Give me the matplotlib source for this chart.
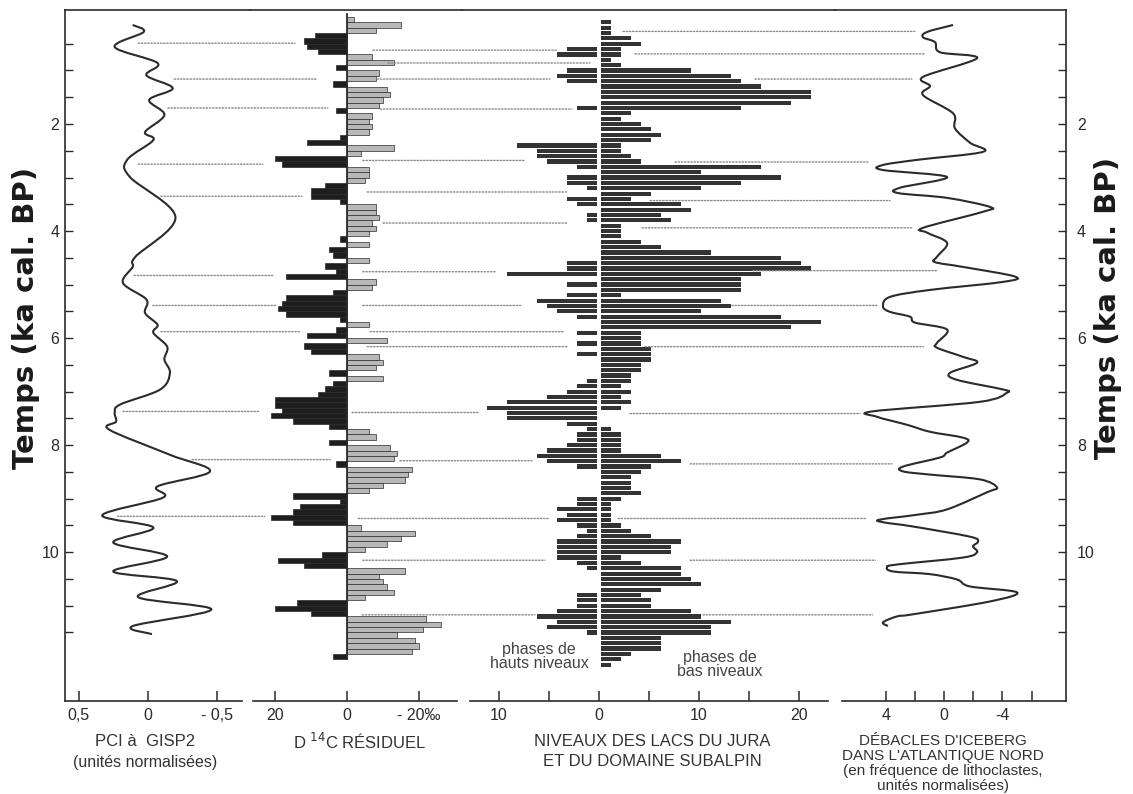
import matplotlib
matplotlib.use("Agg")
import matplotlib.pyplot as plt
from matplotlib.patches import ConnectionPatch, PathPatch
from matplotlib.path import Path
import numpy as np

# PCI at GISP2 (normalised units), time in ka cal. BP
pci_time = [0.15, 0.28, 0.56, 0.86, 1.09, 1.33, 1.55, 1.83, 2.15, 2.30, 2.67, 2.99,
            3.74, 4.48, 4.67, 4.97, 5.28, 5.53, 5.75, 5.90, 6.16, 6.40, 6.65, 6.96,
            7.24, 7.39, 7.56, 7.71, 8.18, 8.49, 8.77, 8.98, 9.31, 9.54, 9.82, 10.08,
            10.36, 10.54, 10.84, 11.07, 11.38, 11.53]
pci_value = [0.11, 0.03, 0.24, -0.07, 0.01, -0.18, -0.01, -0.12, 0.02, -0.04, 0.15, 0.13,
             -0.20, 0.09, 0.11, 0.18, 0.01, 0.02, -0.07, -0.04, -0.14, -0.12, -0.16, -0.09,
             0.20, 0.24, 0.23, 0.28, -0.16, -0.45, -0.07, -0.11, 0.33, -0.04, 0.25, -0.14,
             0.25, -0.21, 0.07, -0.46, 0.11, -0.03]

# residual D14C (per mil), 0.1 ka bins starting at 0.0 ka
d14c_start = 0.0
d14c_step = 0.1
d14c_value = [-2, -15, -8, 9, 12, 11, 8, -7, -13, 3,
              -9, -8, 4, -11, -12, -10, -9, 3, -7, -6,
              -7, -6, 2, 11, -13, -4, 20, 18, -6, -6,
              -5, 6, 10, 10, 2, -8, -8, -9, -7, -8,
              -6, 2, -6, 5, 4, -6, 6, 3, 17, -8,
              -7, 4, 17, 18, 19, 17, 2, -6, 3, 11,
              -11, 12, 10, -9, -10, -8, 5, -10, 4, 6,
              8, 20, 20, 18, 21, 15, 5, -6, -8, 5,
              -12, -14, -13, 3, -18, -17, -16, -10, -6, 15,
              2, 13, 15, 21, 15, -4, -19, -15, -11, -5,
              7, 19, 12, -16, -9, -10, -11, -13, -5, 14,
              20, 10, -22, -26, -21, -14, -19, -20, -18, 4]

# Jura / subalpine lake levels, 0.1 ka bins starting at 0.1 ka
lake_start = 0.1
lake_step = 0.1
lake_high = [0, 0, 0, 0, 0, 3, 4, 0, 0, 3,
             4, 3, 0, 0, 0, 0, 2, 0, 0, 0,
             0, 0, 0, 8, 6, 6, 5, 2, 0, 3,
             3, 1, 0, 3, 2, 0, 1, 1, 0, 0,
             0, 0, 0, 0, 0, 3, 3, 9, 0, 3,
             0, 3, 6, 5, 4, 2, 0, 0, 2, 0,
             2, 0, 2, 0, 0, 0, 0, 1, 2, 3,
             5, 9, 11, 9, 9, 3, 1, 2, 2, 3,
             5, 6, 5, 2, 0, 0, 0, 0, 0, 2,
             2, 4, 3, 4, 2, 1, 2, 4, 4, 4,
             4, 2, 1, 0, 0, 0, 0, 2, 2, 2,
             4, 6, 4, 5, 1, 0, 0, 0, 0, 0,
             0]
lake_low = [1, 1, 1, 3, 4, 2, 2, 1, 2, 9,
            13, 14, 16, 21, 21, 19, 14, 3, 2, 4,
            5, 6, 5, 2, 2, 3, 4, 16, 10, 18,
            14, 10, 5, 3, 8, 9, 6, 7, 2, 2,
            2, 4, 6, 11, 18, 20, 21, 16, 14, 14,
            14, 2, 12, 13, 10, 18, 22, 19, 4, 4,
            4, 5, 5, 5, 4, 4, 3, 3, 2, 3,
            2, 3, 2, 0, 0, 0, 1, 2, 2, 2,
            2, 6, 8, 5, 4, 3, 3, 3, 4, 2,
            1, 1, 1, 1, 2, 3, 5, 8, 7, 7,
            2, 4, 8, 8, 9, 10, 6, 4, 5, 5,
            9, 10, 13, 11, 11, 6, 6, 6, 3, 2,
            1]

# iceberg discharge in the North Atlantic (lithoclast frequency, normalised)
ice_time = [0.15, 0.28, 0.38, 0.47, 0.66, 0.77, 1.12, 1.29, 1.46, 1.80, 2.08, 2.35,
            2.52, 2.67, 2.77, 2.86, 2.99, 3.19, 3.29, 3.38, 3.55, 3.64, 3.94, 4.03,
            4.22, 4.48, 4.58, 4.67, 4.85, 4.95, 5.10, 5.23, 5.41, 5.51, 5.60, 5.71,
            5.84, 6.09, 6.18, 6.35, 6.46, 6.65, 6.78, 6.96, 7.02, 7.19, 7.37, 7.47,
            7.62, 7.75, 7.86, 7.95, 8.14, 8.23, 8.40, 8.49, 8.55, 8.64, 8.79, 8.88,
            9.20, 9.30, 9.39, 9.44, 9.52, 9.71, 9.80, 9.89, 10.00, 10.10, 10.23, 10.28,
            10.36, 10.41, 10.51, 10.64, 10.75, 10.92, 11.16, 11.20, 11.31, 11.38]
ice_value = [-0.62, 1.16, 1.44, 0.62, 0.27, -2.26, 1.44, 0.96, 1.44, -0.62, -0.75, -1.78,
             -2.67, 1.85, 4.25, 4.18, -0.21, 3.01, 3.15, -0.21, -3.15, -2.67, 1.44, 1.16,
             -0.21, 0.48, 0.62, -1.30, -4.86, -4.04, 0.96, 3.70, 4.18, 3.70, 2.33, 1.99,
             -0.21, 0.48, 0.48, -1.30, -2.26, -0.41, -0.89, -4.04, -4.32, -2.47, 4.93, 4.59,
             2.53, 0.96, -1.30, -1.58, -0.21, 0.27, 2.81, 2.81, 0.96, -2.47, -3.63, -2.95,
             -0.21, 1.85, 4.38, 4.18, 2.12, -1.78, -2.33, -1.99, -2.26, -1.30, 3.22, 3.90,
             3.49, 0.96, -0.89, -1.78, -5.00, -3.15, 2.12, 3.22, 4.18, 3.84]

# dotted correlation lines: (time, panel, x) -> (time, panel, x)
corr_lines = [
    (0.27, 2, 2.4, 0.27, 3, 2.0),
    (0.49, 0, 0.07, 0.49, 1, 14.4),
    (0.62, 1, -7.2, 0.62, 2, -4.2),
    (0.69, 2, 3.6, 0.69, 3, 1.3),
    (0.86, 1, -11.4, 0.86, 2, -0.9),
    (1.16, 0, -0.19, 1.16, 1, 8.3),
    (1.16, 1, -8.3, 1.16, 2, -4.9),
    (1.16, 2, 15.6, 1.16, 3, 2.2),
    (1.70, 0, -0.145, 1.70, 1, 5.3),
    (1.72, 1, -9.2, 1.72, 2, -2.7),
    (2.75, 0, 0.07, 2.75, 1, 23.3),
    (2.68, 1, -4.4, 2.68, 2, -7.4),
    (2.71, 2, 7.6, 2.71, 3, 5.1),
    (3.35, 0, -0.094, 3.35, 1, 12.5),
    (3.27, 1, -5.6, 3.27, 2, -3.1),
    (3.43, 2, 5.1, 3.43, 3, 3.7),
    (3.85, 1, -10.0, 3.85, 2, -3.1),
    (3.94, 2, 4.3, 3.94, 3, 2.2),
    (4.83, 0, 0.10, 4.83, 1, 20.6),
    (4.76, 1, -4.4, 4.76, 2, -10.4),
    (4.74, 2, 15.4, 4.74, 3, 0.4),
    (5.39, 0, -0.036, 5.39, 1, 19.4),
    (5.39, 1, -4.4, 5.39, 2, -7.7),
    (5.39, 2, 13.3, 5.39, 3, 4.6),
    (5.88, 0, -0.094, 5.88, 1, 13.1),
    (5.88, 1, -6.4, 5.88, 2, -3.6),
    (6.16, 1, -5.6, 6.16, 2, -3.2),
    (6.16, 2, 4.6, 6.16, 3, 1.4),
    (7.37, 0, 0.18, 7.37, 1, 24.2),
    (7.39, 1, -1.4, 7.39, 2, -12.1),
    (7.41, 2, 3.1, 7.41, 3, 5.75),
    (8.27, 0, -0.32, 8.27, 1, 4.7),
    (8.29, 1, -14.7, 8.29, 2, -6.7),
    (8.35, 2, 9.1, 8.35, 3, 3.56),
    (9.33, 0, 0.22, 9.33, 1, 22.8),
    (9.37, 1, -3.1, 9.37, 2, -5.1),
    (9.37, 2, 1.9, 9.37, 3, 5.27),
    (10.15, 1, -4.4, 10.15, 2, -5.4),
    (10.15, 2, 9.1, 10.15, 3, 4.7),
    (11.17, 1, -4.2, 11.17, 2, -6.4),
    (11.17, 2, 10.4, 11.17, 3, 4.9),
]

ink = "#2b2b2b"

plt.rcParams["font.family"] = ["Liberation Sans", "DejaVu Sans"]
plt.rcParams["axes.linewidth"] = 1.2

fig = plt.figure(figsize=(11.33, 7.94), dpi=100)

W, H = 1133.0, 794.0
top_px, bot_px = 10, 701


def add_panel(x0, x1):
    return fig.add_axes([x0 / W, 1 - bot_px / H, (x1 - x0) / W, (bot_px - top_px) / H])


def smooth_curve(ax, xs, ys, **kw):
    # Catmull-Rom through the points, drawn as cubic Bezier segments
    pts = np.column_stack([xs, ys]).astype(float)
    ext = np.vstack([pts[0], pts, pts[-1]])
    verts = [pts[0]]
    codes = [Path.MOVETO]
    for i in range(1, len(ext) - 2):
        p0, p1, p2, p3 = ext[i - 1], ext[i], ext[i + 1], ext[i + 2]
        verts += [p1 + (p2 - p0) / 6.0, p2 - (p3 - p1) / 6.0, p2]
        codes += [Path.CURVE4] * 3
    patch = PathPatch(Path(verts, codes), facecolor="none", **kw)
    ax.add_patch(patch)


ax_pci = add_panel(65, 250)
ax_c14 = add_panel(250, 462)
ax_lake = add_panel(462, 835)
ax_ice = add_panel(835, 1066)
panels = [ax_pci, ax_c14, ax_lake, ax_ice]

for ax in panels:
    ax.set_ylim(12.78, -0.13)
    ax.set_facecolor("none")
    for side in ("left", "right"):
        ax.spines[side].set_visible(False)
    ax.spines["top"].set_color(ink)
    ax.spines["bottom"].set_color(ink)
    ax.tick_params(axis="x", direction="in", length=7, width=1.1, colors=ink,
                   labelsize=11.5, pad=5)
    ax.tick_params(axis="y", left=False, right=False, labelleft=False)

# --- PCI panel
smooth_curve(ax_pci, pci_value, pci_time, edgecolor=ink, lw=1.5, zorder=3)
ax_pci.set_xlim(0.60, -0.74)
ax_pci.spines["bottom"].set_bounds(0.60, -0.68)
ax_pci.set_xticks([0.5, 0, -0.5])
ax_pci.set_xticklabels(["0,5", "0", "- 0,5"])

# --- residual D14C panel
c14_t = d14c_start + d14c_step * np.arange(len(d14c_value)) + d14c_step / 2
c14_v = np.array(d14c_value, dtype=float)
c14_colors = np.where(c14_v > 0, "#1e1e1e", "#b8b8b8")
ax_c14.barh(c14_t, c14_v, height=d14c_step, color=c14_colors, edgecolor=ink,
            linewidth=0.5, zorder=3)
ax_c14.plot([0, 0], [-0.05, 12.0], color=ink, lw=1.3, zorder=4)
ax_c14.set_xlim(26.9, -31.9)
ax_c14.spines["bottom"].set_bounds(26.1, -30.6)
ax_c14.set_xticks([20, 0, -20])
ax_c14.set_xticklabels(["20", "0", "- 20‰"])

# --- lake level panel
lake_t = lake_start + lake_step * np.arange(len(lake_low))
ax_lake.barh(lake_t, -np.array(lake_high), height=lake_step * 0.78, left=-0.2,
             color="#333333", linewidth=0, zorder=3)
ax_lake.barh(lake_t, lake_low, height=lake_step * 0.78, left=0.2,
             color="#333333", linewidth=0, zorder=3)
ax_lake.set_xlim(-13.7, 23.6)
ax_lake.spines["bottom"].set_bounds(-12.9, 22.9)
ax_lake.set_xticks([-10, -5, 0, 5, 10, 15, 20])
ax_lake.set_xticklabels(["10", "", "0", "", "10", "", "20"])
ax_lake.text(-6, 11.95, "phases de\nhauts niveaux", ha="center", va="center",
             fontsize=11.5, color="#444444", linespacing=0.95)
ax_lake.text(12.1, 12.1, "phases de\nbas niveaux", ha="center", va="center",
             fontsize=11.5, color="#444444", linespacing=0.95)

# --- iceberg panel
smooth_curve(ax_ice, ice_value, ice_time, edgecolor=ink, lw=1.5, zorder=3)
ax_ice.set_xlim(7.47, -8.36)
ax_ice.spines["bottom"].set_bounds(6.99, -8.36)
ax_ice.set_xticks([4, 2, 0, -2, -4, -6])
ax_ice.set_xticklabels(["4", "", "0", "", "-4", ""])

# outer time axes
yt_minor = np.arange(0.5, 11.6, 0.5)
for ax, side in ((ax_pci, "left"), (ax_ice, "right")):
    ax.spines[side].set_visible(True)
    ax.spines[side].set_color(ink)
    ax.set_yticks(yt_minor)
    ax.set_yticklabels([("%d" % v if v in (2, 4, 6, 8, 10) else "") for v in yt_minor])
    if side == "left":
        ax.tick_params(axis="y", left=True, labelleft=True, direction="in", length=6,
                       width=1.0, colors=ink, labelsize=11.5, pad=4)
    else:
        ax.tick_params(axis="y", right=True, labelright=True, direction="in", length=6,
                       width=1.0, colors=ink, labelsize=11.5, pad=8)

ylabel_kw = dict(rotation=90, ha="center", va="center", fontsize=21,
                 fontweight="heavy", family="DejaVu Sans", color="#1a1a1a")
fig.text(26 / W, 1 - 318 / H, "Temps (ka cal. BP)", **ylabel_kw)
fig.text(1108 / W, 1 - 308 / H, "Temps (ka cal. BP)", **ylabel_kw)

# panel captions
cap_kw = dict(ha="center", va="center", color="#333333")
fig.text(145 / W, 1 - 742 / H, "PCI à  GISP2", fontsize=12, **cap_kw)
fig.text(145 / W, 1 - 763 / H, "(unités normalisées)", fontsize=11.5, **cap_kw)
fig.text(360 / W, 1 - 742 / H, r"D $^{14}$C RÉSIDUEL", fontsize=12, **cap_kw)
fig.text(652 / W, 1 - 742 / H, "NIVEAUX DES LACS DU JURA", fontsize=12, **cap_kw)
fig.text(652 / W, 1 - 761 / H, "ET DU DOMAINE SUBALPIN", fontsize=12, **cap_kw)
fig.text(943 / W, 1 - 741 / H, "DÉBACLES D'ICEBERG", fontsize=11, **cap_kw)
fig.text(943 / W, 1 - 756 / H, "DANS L'ATLANTIQUE NORD", fontsize=11, **cap_kw)
fig.text(943 / W, 1 - 771 / H, "(en fréquence de lithoclastes,", fontsize=11, **cap_kw)
fig.text(943 / W, 1 - 786 / H, "unités normalisées)", fontsize=11, **cap_kw)

# dotted correlation lines between records
for t_a, p_a, x_a, t_b, p_b, x_b in corr_lines:
    con = ConnectionPatch(xyA=(x_a, t_a), coordsA=panels[p_a].transData,
                          xyB=(x_b, t_b), coordsB=panels[p_b].transData,
                          color="#8a8a8a", lw=1.0, linestyle=(0, (1, 1.3)), zorder=1)
    fig.add_artist(con)

fig.savefig("out.png", dpi=100)
